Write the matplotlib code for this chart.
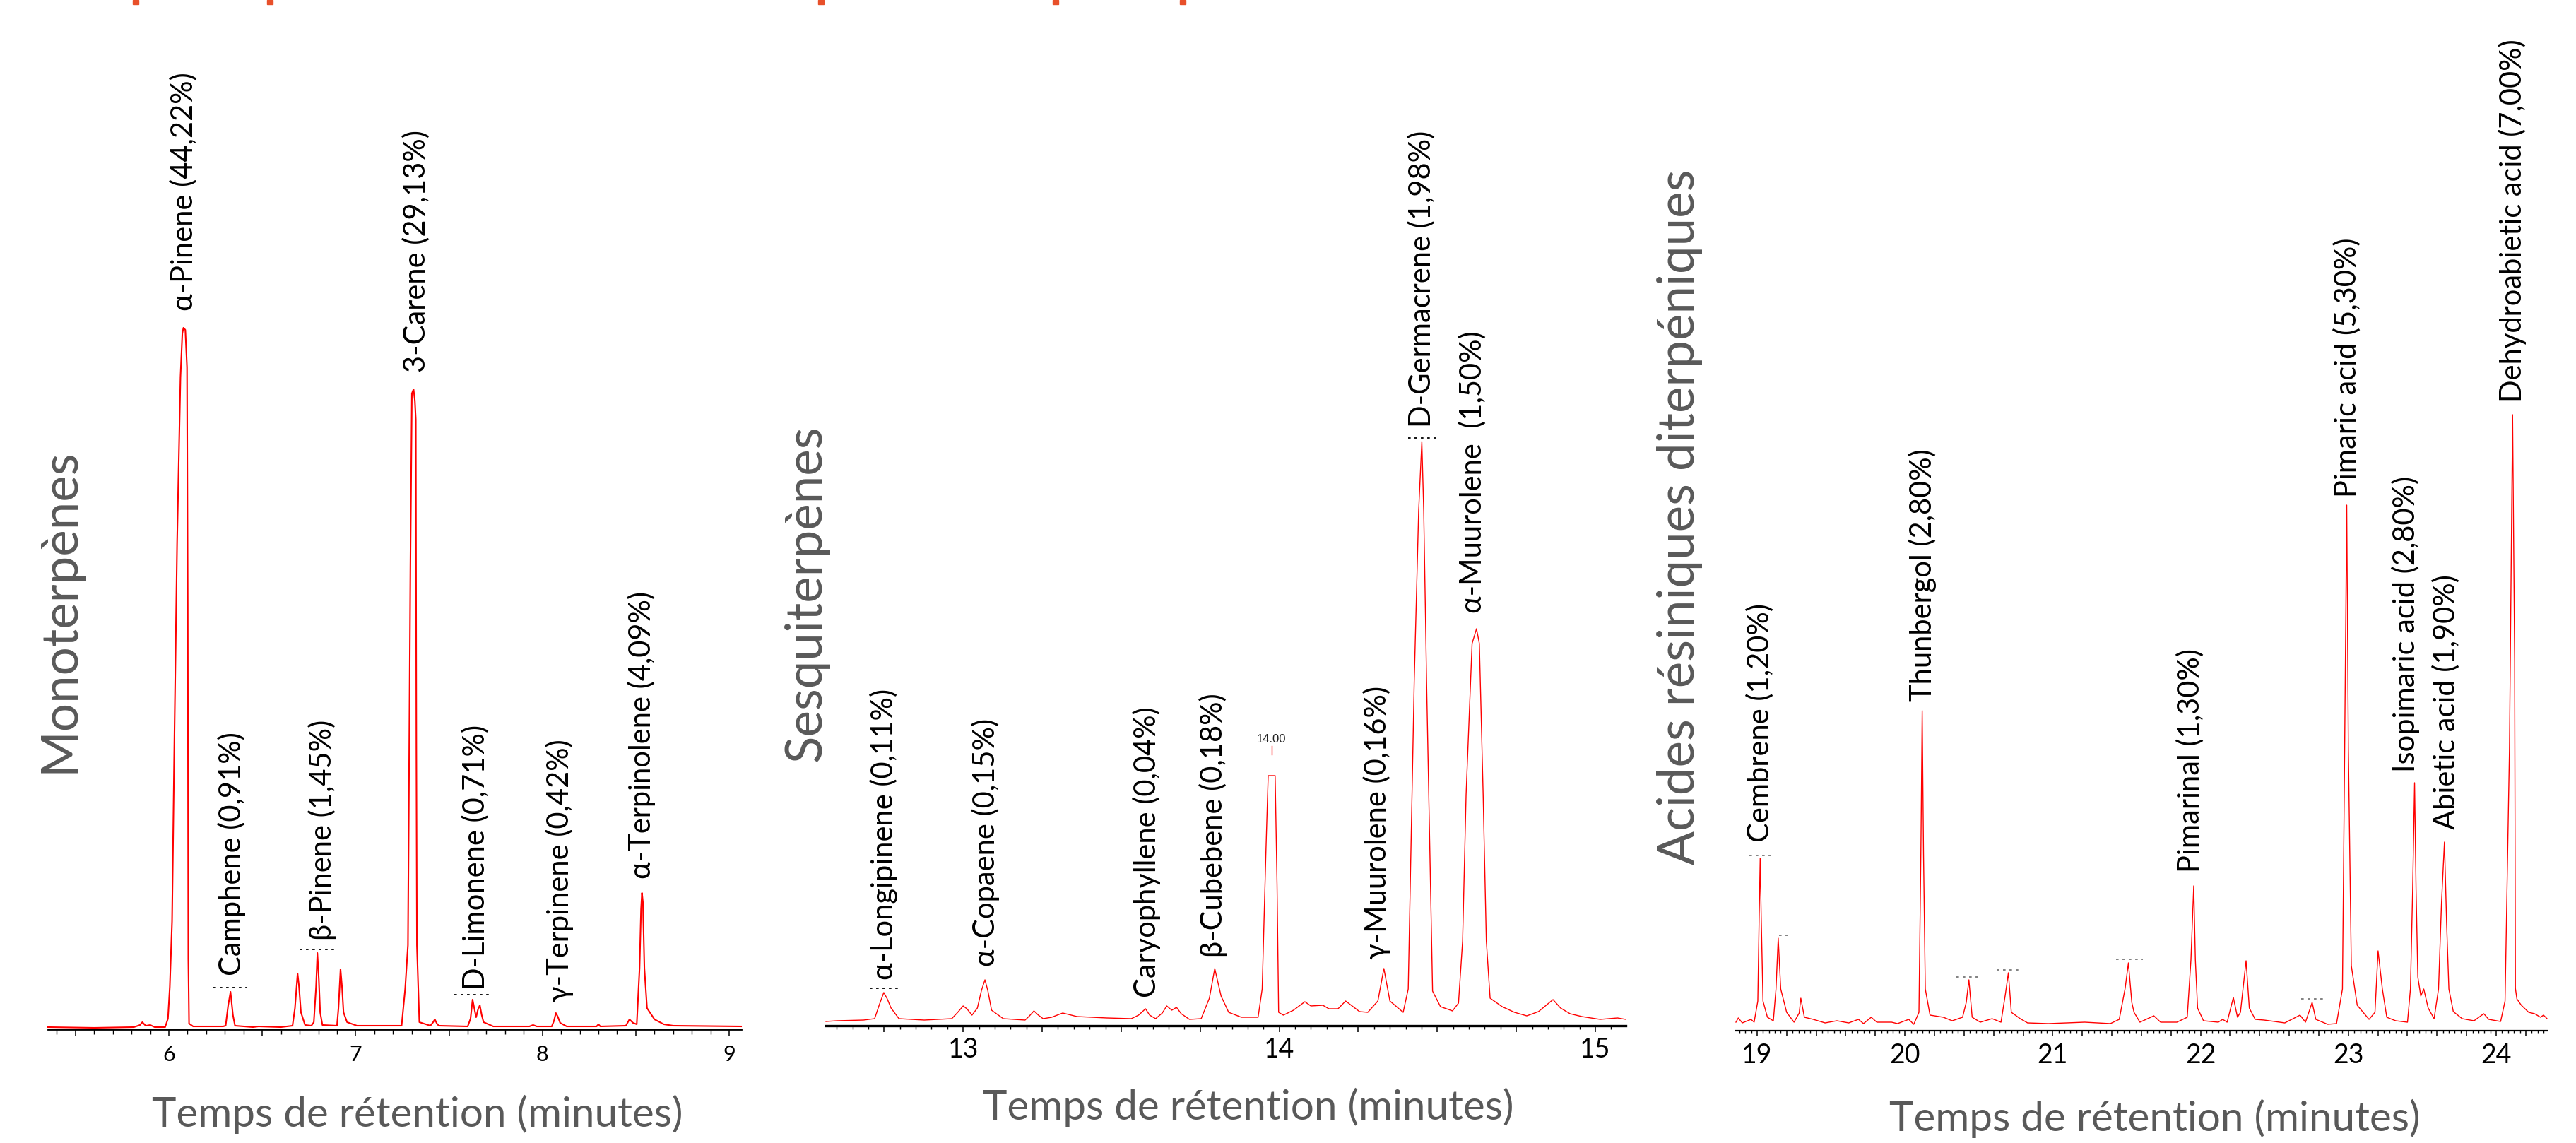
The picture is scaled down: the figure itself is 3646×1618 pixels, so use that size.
import matplotlib
matplotlib.use("Agg")
import matplotlib.pyplot as plt
from matplotlib.ticker import MultipleLocator, FuncFormatter
from matplotlib.patches import Rectangle

W, H = 3646, 1618
FONT = ['Lato', 'Open Sans', 'DejaVu Sans']
GREY = '#595959'

# Monoterpenes: retention time (min) / height above the axis (px)
mono_t = [5.353, 5.60, 5.813, 5.845, 5.858, 5.872, 5.879, 5.90, 5.924, 5.98, 5.995, 6.005,
          6.017, 6.03, 6.044, 6.062, 6.072, 6.078, 6.088, 6.097, 6.101, 6.104, 6.108, 6.13,
          6.29, 6.304, 6.317, 6.330, 6.343, 6.354, 6.45, 6.48, 6.60, 6.662, 6.675, 6.689,
          6.697, 6.707, 6.729, 6.763, 6.776, 6.788, 6.795, 6.803, 6.81, 6.822, 6.90, 6.908,
          6.919, 6.927, 6.935, 6.954, 7.007, 7.246, 7.265, 7.28, 7.293, 7.301, 7.310, 7.317,
          7.322, 7.325, 7.328, 7.341, 7.40, 7.415, 7.424, 7.435, 7.445, 7.60, 7.615, 7.626,
          7.635, 7.645, 7.655, 7.665, 7.675, 7.685, 7.737, 7.93, 7.95, 7.97, 8.05, 8.062,
          8.072, 8.082, 8.095, 8.13, 8.29, 8.30, 8.31, 8.447, 8.466, 8.485, 8.505, 8.52,
          8.528, 8.533, 8.538, 8.546, 8.56, 8.60, 8.65, 8.70, 9.064]
mono_h = [3, 2, 3, 6, 10, 6, 5, 6, 3, 3, 15, 60,
          153, 420, 689, 923, 985, 993, 990, 937, 600, 100, 8, 4,
          4, 5, 33, 53, 20, 5, 3, 4, 3, 5, 30, 79,
          60, 24, 6, 5, 10, 60, 108, 70, 24, 6, 5, 30,
          85, 60, 24, 10, 5, 5, 57, 119, 655, 900, 906, 890,
          863, 400, 119, 10, 5, 10, 14, 8, 5, 4, 15, 42,
          30, 17, 28, 34, 20, 10, 4, 4, 6, 4, 4, 12,
          23, 18, 9, 4, 4, 7, 4, 5, 14, 9, 7, 86,
          170, 193, 180, 86, 30, 14, 7, 5, 4]
mono_names = ['α-Pinene (44,22%)', 'Camphene (0,91%)', 'β-Pinene (1,45%)', '3-Carene (29,13%)',
              'D-Limonene (0,71%)', 'γ-Terpinene (0,42%)', 'α-Terpinolene (4,09%)']
mono_label_t = [6.08, 6.337, 6.82, 7.325, 7.64, 8.09, 8.53]
mono_label_h = [1017, 76, 126, 930, 56, 39, 213]

# Sesquiterpenes
sesq_t = [12.566, 12.60, 12.685, 12.72, 12.735, 12.749, 12.760, 12.772, 12.797, 12.877, 12.92,
          12.964, 12.985, 13.0, 13.012, 13.028, 13.045, 13.058, 13.069, 13.078, 13.09, 13.127,
          13.196, 13.21, 13.224, 13.238, 13.253, 13.28, 13.315, 13.36, 13.455, 13.532, 13.555,
          13.577, 13.59, 13.609, 13.63, 13.644, 13.66, 13.675, 13.69, 13.716, 13.753, 13.779,
          13.796, 13.816, 13.84, 13.88, 13.933, 13.946, 13.958, 13.965, 13.987, 13.993, 13.998,
          14.013, 14.045, 14.081, 14.10, 14.138, 14.157, 14.186, 14.21, 14.254, 14.28, 14.312,
          14.331, 14.35, 14.392, 14.408, 14.427, 14.441, 14.451, 14.457, 14.466, 14.485, 14.51,
          14.548, 14.567, 14.58, 14.591, 14.61, 14.624, 14.633, 14.645, 14.655, 14.667, 14.705,
          14.744, 14.783, 14.82, 14.866, 14.89, 14.92, 14.957, 15.015, 15.07, 15.096]
sesq_h = [6, 7, 8, 10, 30, 47, 38, 25, 10, 8, 9,
          10, 20, 28, 24, 15, 25, 50, 65, 50, 22, 10,
          8, 14, 21, 15, 10, 12, 18, 13, 11, 10, 15,
          24, 15, 10, 18, 28, 22, 26, 17, 9, 10, 39,
          81, 42, 19, 12, 12, 52, 250, 354, 354, 200, 19,
          15, 22, 34, 28, 29, 24, 24, 35, 20, 19, 35,
          81, 35, 19, 52, 488, 729, 827, 729, 488, 49, 27,
          21, 32, 120, 327, 541, 562, 541, 327, 120, 39, 27,
          19, 14, 20, 37, 25, 17, 13, 9, 11, 9]
sesq_names = ['α-Longipinene (0,11%)', 'α-Copaene (0,15%)', 'Caryophyllene (0,04%)',
              'β-Cubebene (0,18%)', 'γ-Muurolene (0,16%)', 'D-Germacrene (1,98%)',
              'α-Muurolene  (1,50%)']
sesq_label_t = [12.75, 13.07, 13.58, 13.79, 14.31, 14.45, 14.61]
sesq_label_h = [65, 84, 40, 97, 94, 847, 584]

# Diterpenic resin acids
resin_t = [18.857, 18.873, 18.90, 18.959, 18.98, 19.005, 19.014, 19.021, 19.028, 19.04, 19.07,
           19.11, 19.128, 19.143, 19.16, 19.20, 19.25, 19.285, 19.296, 19.32, 19.38, 19.46,
           19.54, 19.62, 19.686, 19.72, 19.772, 19.81, 19.91, 19.95, 20.026, 20.06, 20.095,
           20.108, 20.117, 20.126, 20.138, 20.17, 20.26, 20.32, 20.39, 20.415, 20.433, 20.455,
           20.51, 20.59, 20.65, 20.68, 20.70, 20.72, 20.78, 20.83, 20.97, 21.216, 21.39, 21.45,
           21.49, 21.512, 21.535, 21.55, 21.59, 21.684, 21.73, 21.84, 21.91, 21.935, 21.954,
           21.965, 21.98, 22.02, 22.12, 22.15, 22.18, 22.222, 22.25, 22.27, 22.308, 22.33, 22.37,
           22.43, 22.57, 22.673, 22.71, 22.755, 22.78, 22.86, 22.92, 22.96, 22.975, 22.989, 23.0,
           23.02, 23.06, 23.14, 23.18, 23.201, 23.23, 23.26, 23.32, 23.40, 23.42, 23.435, 23.448,
           23.458, 23.47, 23.49, 23.51, 23.54, 23.58, 23.61, 23.63, 23.65, 23.665, 23.68, 23.71,
           23.77, 23.85, 23.916, 23.95, 24.03, 24.06, 24.09, 24.111, 24.118, 24.125, 24.13,
           24.14, 24.17, 24.22, 24.26, 24.30, 24.32, 24.344]
resin_h = [12, 18, 11, 16, 12, 42, 160, 244, 160, 42, 19,
           14, 59, 131, 59, 26, 12, 25, 46, 19, 16, 11,
           14, 11, 16, 10, 19, 12, 12, 10, 16, 9, 26,
           250, 453, 250, 59, 22, 19, 14, 19, 40, 72, 19,
           12, 17, 12, 52, 82, 26, 17, 11, 10, 12, 10, 16,
           60, 96, 40, 26, 12, 21, 12, 12, 19, 100, 205,
           100, 32, 14, 12, 16, 12, 47, 19, 26, 99, 32, 16,
           15, 11, 22, 12, 40, 16, 9, 10, 59, 400, 744, 400,
           92, 36, 16, 26, 113, 59, 19, 14, 12, 59, 200, 351,
           200, 76, 49, 59, 32, 17, 59, 180, 267, 150, 59, 27,
           17, 14, 24, 16, 13, 42, 400, 872, 700, 524, 60,
           45, 36, 26, 24, 19, 22, 17]
resin_names = ['Cembrene (1,20%)', 'Thunbergol (2,80%)', 'Pimarinal (1,30%)',
               'Pimaric acid (5,30%)', 'Isopimaric acid (2,80%)', 'Abietic acid (1,90%)',
               'Dehydroabietic acid (7,00%)']
resin_label_t = [19.02, 20.12, 21.93, 22.99, 23.39, 23.66, 24.11]
resin_label_h = [267, 466, 224, 755, 366, 285, 890]

# small integration markers (start, end, height) left by the software
mono_marks = [(6.24, 6.42, 59), (6.70, 6.90, 113), (7.53, 7.72, 49)]
sesq_marks = [(12.705, 12.80, 53), (14.408, 14.504, 832)]
resin_marks = [(18.95, 19.10, 248), (19.15, 19.23, 135), (20.35, 20.51, 76),
               (20.62, 20.78, 86), (21.43, 21.61, 101), (22.68, 22.84, 45)]

# bits of a cropped red heading showing at the top edge (pixel x)
heading_bits_x = [192, 382, 1162, 1494, 1674]


def int_label(v, pos):
    if abs(v - round(v)) < 1e-6:
        return '%d' % round(v)
    return ''


def make_axis(left, right, axis_y, xlim, major, minor, tick_size, spine_w, maj_len, min_len, pad):
    ax = fig.add_axes([left / W, (H - axis_y) / H, (right - left) / W, axis_y / H])
    ax.set_xlim(*xlim)
    ax.set_ylim(0, axis_y)
    ax.patch.set_alpha(0)
    for s in ['top', 'left', 'right']:
        ax.spines[s].set_visible(False)
    ax.spines['bottom'].set_linewidth(spine_w)
    ax.set_yticks([])
    ax.xaxis.set_major_locator(MultipleLocator(major))
    ax.xaxis.set_minor_locator(MultipleLocator(minor))
    ax.xaxis.set_major_formatter(FuncFormatter(int_label))
    ax.tick_params(axis='x', which='major', length=maj_len, width=1.1, direction='out',
                   labelsize=tick_size, pad=pad)
    ax.tick_params(axis='x', which='minor', length=min_len, width=1.0, direction='out')
    return ax


def draw_trace(ax, t, h, names, lab_t, lab_h, marks, lw, mark_color='black'):
    ax.plot(t, h, color='#ff0000', lw=lw, clip_on=False)
    for name, x, y in zip(names, lab_t, lab_h):
        ax.text(x, y, name, rotation=90, ha='center', va='bottom', fontsize=30,
                color='black', clip_on=False)
    for x0, x1, y in marks:
        ax.plot([x0, x1], [y, y], color=mark_color, lw=1.3, ls=(0, (2, 3)))


plt.rcParams['font.family'] = FONT
fig = plt.figure(figsize=(W / 100, H / 100), dpi=100)

ax1 = make_axis(68, 1049, 1457, (5.353, 9.064), 0.5, 0.1, 22, 2.0, 7, 5, 9)
draw_trace(ax1, mono_t, mono_h, mono_names, mono_label_t, mono_label_h, mono_marks, 1.5)

ax2 = make_axis(1169, 2301, 1452, (12.566, 15.096), 0.25, 0.05, 27, 2.4, 6.5, 3.5, 5)
draw_trace(ax2, sesq_t, sesq_h, sesq_names, sesq_label_t, sesq_label_h, sesq_marks, 1.0)
ax2.text(13.976, 398, '14.00', fontsize=12, ha='center', va='bottom',
         family=['Liberation Sans Narrow', 'Liberation Sans'], color='#222222')
ax2.plot([13.976, 13.976], [384, 396], color='#ff0000', lw=1.0)

ax3 = make_axis(2457, 3605, 1459, (18.857, 24.344), 0.2, 0.04, 27, 1.6, 5, 2.5, 7)
draw_trace(ax3, resin_t, resin_h, resin_names, resin_label_t, resin_label_h, resin_marks, 1.0,
           mark_color='#777777')

# group titles
fig.text(84 / W, 1 - 864 / H, 'Monoterpènes', rotation=90, ha='center', va='center',
         fontsize=51, color=GREY)
fig.text(1141 / W, 1 - 840 / H, 'Sesquiterpènes', rotation=90, ha='center', va='center',
         fontsize=51, color=GREY)
fig.text(2377 / W, 1 - 732 / H, 'Acides résiniques diterpéniques', rotation=90, ha='center',
         va='center', fontsize=51, color=GREY)

# x axis titles
for cx, cy in [(591, 1577), (1767, 1567), (3050, 1583)]:
    fig.text(cx / W, 1 - cy / H, 'Temps de rétention (minutes)', ha='center', va='center',
             fontsize=42, color=GREY)

for bx in heading_bits_x:
    fig.patches.append(Rectangle(((bx - 4) / W, 1 - 6 / H), 8 / W, 6 / H,
                                 transform=fig.transFigure, color='#e8502a', figure=fig))

fig.savefig('out.png', dpi=100)
